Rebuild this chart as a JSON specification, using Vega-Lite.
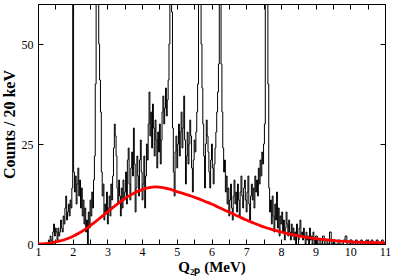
{
  "$schema": "https://vega.github.io/schema/vega-lite/v6.json",
  "width": 347,
  "height": 240,
  "autosize": {"type": "none"},
  "padding": {"left": 38, "top": 4, "right": 10, "bottom": 36},
  "background": "white",
  "config": {
    "view": {"stroke": "black", "strokeWidth": 1},
    "axis": {
      "domain": false,
      "grid": false,
      "tickColor": "black",
      "tickWidth": 1,
      "tickSize": -5,
      "labelFont": "Liberation Serif",
      "labelFontSize": 12,
      "labelColor": "black",
      "titleFont": "Liberation Serif",
      "titleFontWeight": "bold",
      "titleColor": "black"
    }
  },
  "datasets": {
    "hist": [
      {"q":1.0,"c":0},{"q":1.25,"c":0},{"q":1.275,"c":0},{"q":1.3,"c":1},{"q":1.325,"c":0},{"q":1.35,"c":2},{"q":1.375,"c":1},{"q":1.4,"c":0},{"q":1.425,"c":3},{"q":1.45,"c":5},{"q":1.475,"c":2},
      {"q":1.5,"c":4},{"q":1.525,"c":3},{"q":1.55,"c":1},{"q":1.575,"c":4},{"q":1.6,"c":2},{"q":1.625,"c":3},{"q":1.65,"c":6},{"q":1.675,"c":4},{"q":1.7,"c":3},{"q":1.725,"c":7},
      {"q":1.75,"c":5},{"q":1.775,"c":9},{"q":1.8,"c":12},{"q":1.825,"c":6},{"q":1.85,"c":8},{"q":1.875,"c":10},{"q":1.9,"c":7},{"q":1.925,"c":11},{"q":1.95,"c":9},{"q":1.975,"c":14},
      {"q":2.0,"c":100},{"q":2.025,"c":18},{"q":2.05,"c":13},{"q":2.075,"c":17},{"q":2.1,"c":10},{"q":2.125,"c":15},{"q":2.15,"c":19},{"q":2.175,"c":12},{"q":2.2,"c":16},{"q":2.225,"c":9},
      {"q":2.25,"c":14},{"q":2.275,"c":7},{"q":2.3,"c":11},{"q":2.325,"c":5},{"q":2.35,"c":9},{"q":2.375,"c":3},{"q":2.4,"c":6},{"q":2.425,"c":0},{"q":2.45,"c":8},{"q":2.475,"c":4},
      {"q":2.5,"c":11},{"q":2.525,"c":7},{"q":2.55,"c":13},{"q":2.575,"c":9},{"q":2.6,"c":16},{"q":2.625,"c":22},{"q":2.65,"c":40},{"q":2.675,"c":90},{"q":2.7,"c":130},{"q":2.725,"c":80},
      {"q":2.75,"c":50},{"q":2.775,"c":41},{"q":2.8,"c":33},{"q":2.825,"c":18},{"q":2.85,"c":12},{"q":2.875,"c":15},{"q":2.9,"c":6},{"q":2.925,"c":10},{"q":2.95,"c":8},{"q":2.975,"c":13},
      {"q":3.0,"c":5},{"q":3.025,"c":9},{"q":3.05,"c":12},{"q":3.075,"c":7},{"q":3.1,"c":15},{"q":3.125,"c":11},{"q":3.15,"c":17},{"q":3.175,"c":24},{"q":3.2,"c":30},{"q":3.225,"c":27},
      {"q":3.25,"c":22},{"q":3.275,"c":14},{"q":3.3,"c":10},{"q":3.325,"c":16},{"q":3.35,"c":12},{"q":3.375,"c":7},{"q":3.4,"c":14},{"q":3.425,"c":9},{"q":3.45,"c":16},{"q":3.475,"c":11},
      {"q":3.5,"c":13},{"q":3.525,"c":18},{"q":3.55,"c":10},{"q":3.575,"c":21},{"q":3.6,"c":24},{"q":3.625,"c":15},{"q":3.65,"c":11},{"q":3.675,"c":19},{"q":3.7,"c":23},{"q":3.725,"c":17},
      {"q":3.75,"c":29},{"q":3.775,"c":20},{"q":3.8,"c":8},{"q":3.825,"c":14},{"q":3.85,"c":22},{"q":3.875,"c":17},{"q":3.9,"c":12},{"q":3.925,"c":21},{"q":3.95,"c":26},{"q":3.975,"c":18},
      {"q":4.0,"c":11},{"q":4.025,"c":15},{"q":4.05,"c":22},{"q":4.075,"c":9},{"q":4.1,"c":17},{"q":4.125,"c":25},{"q":4.15,"c":21},{"q":4.175,"c":30},{"q":4.2,"c":38},{"q":4.225,"c":27},
      {"q":4.25,"c":33},{"q":4.275,"c":24},{"q":4.3,"c":35},{"q":4.325,"c":29},{"q":4.35,"c":22},{"q":4.375,"c":31},{"q":4.4,"c":26},{"q":4.425,"c":19},{"q":4.45,"c":28},{"q":4.475,"c":23},
      {"q":4.5,"c":30},{"q":4.525,"c":20},{"q":4.55,"c":26},{"q":4.575,"c":33},{"q":4.6,"c":37},{"q":4.625,"c":30},{"q":4.65,"c":34},{"q":4.675,"c":39},{"q":4.7,"c":32},{"q":4.725,"c":36},
      {"q":4.75,"c":41},{"q":4.775,"c":50},{"q":4.8,"c":100},{"q":4.825,"c":70},{"q":4.85,"c":58},{"q":4.875,"c":29},{"q":4.9,"c":18},{"q":4.925,"c":12},{"q":4.95,"c":23},{"q":4.975,"c":27},
      {"q":5.0,"c":19},{"q":5.025,"c":25},{"q":5.05,"c":30},{"q":5.075,"c":22},{"q":5.1,"c":28},{"q":5.125,"c":33},{"q":5.15,"c":24},{"q":5.175,"c":29},{"q":5.2,"c":37},{"q":5.225,"c":26},
      {"q":5.25,"c":15},{"q":5.275,"c":22},{"q":5.3,"c":28},{"q":5.325,"c":20},{"q":5.35,"c":25},{"q":5.375,"c":31},{"q":5.4,"c":27},{"q":5.425,"c":19},{"q":5.45,"c":13},{"q":5.475,"c":21},
      {"q":5.5,"c":26},{"q":5.525,"c":23},{"q":5.55,"c":28},{"q":5.575,"c":33},{"q":5.6,"c":40},{"q":5.625,"c":60},{"q":5.65,"c":100},{"q":5.675,"c":85},{"q":5.7,"c":50},{"q":5.725,"c":39},
      {"q":5.75,"c":30},{"q":5.775,"c":22},{"q":5.8,"c":14},{"q":5.825,"c":25},{"q":5.85,"c":31},{"q":5.875,"c":27},{"q":5.9,"c":23},{"q":5.925,"c":18},{"q":5.95,"c":14},{"q":5.975,"c":21},
      {"q":6.0,"c":25},{"q":6.025,"c":19},{"q":6.05,"c":15},{"q":6.075,"c":20},{"q":6.1,"c":24},{"q":6.125,"c":28},{"q":6.15,"c":33},{"q":6.175,"c":38},{"q":6.2,"c":45},{"q":6.225,"c":90},
      {"q":6.25,"c":110},{"q":6.275,"c":45},{"q":6.3,"c":33},{"q":6.325,"c":24},{"q":6.35,"c":18},{"q":6.375,"c":21},{"q":6.4,"c":13},{"q":6.425,"c":17},{"q":6.45,"c":10},{"q":6.475,"c":14},
      {"q":6.5,"c":7},{"q":6.525,"c":11},{"q":6.55,"c":15},{"q":6.575,"c":9},{"q":6.6,"c":6},{"q":6.625,"c":12},{"q":6.65,"c":16},{"q":6.675,"c":10},{"q":6.7,"c":13},{"q":6.725,"c":8},
      {"q":6.75,"c":15},{"q":6.775,"c":11},{"q":6.8,"c":7},{"q":6.825,"c":13},{"q":6.85,"c":17},{"q":6.875,"c":12},{"q":6.9,"c":9},{"q":6.925,"c":14},{"q":6.95,"c":16},{"q":6.975,"c":11},
      {"q":7.0,"c":8},{"q":7.025,"c":13},{"q":7.05,"c":17},{"q":7.075,"c":10},{"q":7.1,"c":6},{"q":7.125,"c":12},{"q":7.15,"c":15},{"q":7.175,"c":11},{"q":7.2,"c":14},{"q":7.225,"c":9},
      {"q":7.25,"c":17},{"q":7.275,"c":13},{"q":7.3,"c":16},{"q":7.325,"c":12},{"q":7.35,"c":19},{"q":7.375,"c":15},{"q":7.4,"c":21},{"q":7.425,"c":17},{"q":7.45,"c":23},{"q":7.475,"c":20},
      {"q":7.5,"c":25},{"q":7.525,"c":30},{"q":7.55,"c":80},{"q":7.575,"c":110},{"q":7.6,"c":90},{"q":7.625,"c":40},{"q":7.65,"c":14},{"q":7.675,"c":8},{"q":7.7,"c":11},{"q":7.725,"c":5},
      {"q":7.75,"c":12},{"q":7.775,"c":7},{"q":7.8,"c":3},{"q":7.825,"c":10},{"q":7.85,"c":6},{"q":7.875,"c":13},{"q":7.9,"c":4},{"q":7.925,"c":9},{"q":7.95,"c":2},{"q":7.975,"c":7},
      {"q":8.0,"c":5},{"q":8.025,"c":8},{"q":8.05,"c":3},{"q":8.075,"c":6},{"q":8.1,"c":1},{"q":8.125,"c":4},{"q":8.15,"c":8},{"q":8.175,"c":5},{"q":8.2,"c":2},{"q":8.225,"c":6},
      {"q":8.25,"c":3},{"q":8.275,"c":1},{"q":8.3,"c":5},{"q":8.325,"c":2},{"q":8.35,"c":4},{"q":8.375,"c":1},{"q":8.4,"c":3},{"q":8.425,"c":0},{"q":8.45,"c":5},{"q":8.475,"c":2},
      {"q":8.5,"c":1},{"q":8.525,"c":4},{"q":8.55,"c":6},{"q":8.575,"c":2},{"q":8.6,"c":3},{"q":8.625,"c":1},{"q":8.65,"c":4},{"q":8.675,"c":2},{"q":8.7,"c":0},{"q":8.725,"c":3},
      {"q":8.75,"c":1},{"q":8.775,"c":2},{"q":8.8,"c":0},{"q":8.825,"c":4},{"q":8.85,"c":1},{"q":8.875,"c":2},{"q":8.9,"c":0},{"q":8.925,"c":3},{"q":8.95,"c":1},{"q":8.975,"c":0},
      {"q":9.0,"c":2},{"q":9.05,"c":0},{"q":9.1,"c":1},{"q":9.15,"c":0},{"q":9.2,"c":2},{"q":9.25,"c":0},{"q":9.3,"c":1},{"q":9.35,"c":0},{"q":9.4,"c":3},{"q":9.45,"c":0},
      {"q":9.5,"c":1},{"q":9.55,"c":0},{"q":9.6,"c":0},{"q":9.65,"c":1},{"q":9.7,"c":0},{"q":9.75,"c":0},{"q":9.8,"c":1},{"q":9.85,"c":2},{"q":9.9,"c":0},{"q":9.95,"c":0},
      {"q":10.0,"c":1},{"q":10.05,"c":0},{"q":10.1,"c":0},{"q":10.15,"c":1},{"q":10.2,"c":0},{"q":10.25,"c":0},{"q":10.3,"c":1},{"q":10.35,"c":0},{"q":10.4,"c":0},{"q":10.45,"c":1},
      {"q":10.5,"c":0},{"q":10.55,"c":0},{"q":10.6,"c":1},{"q":10.65,"c":0},{"q":10.7,"c":0},{"q":10.75,"c":1},{"q":10.8,"c":0},{"q":10.85,"c":0},{"q":10.9,"c":1},{"q":10.95,"c":0},
      {"q":11.0,"c":0}
    ],
    "fit": [
      {"q": 1.0, "c": 0}, {"q": 1.2, "c": 0.1}, {"q": 1.4, "c": 0.3}, {"q": 1.6, "c": 0.7}, {"q": 1.8, "c": 1.2},
      {"q": 2.0, "c": 1.9}, {"q": 2.2, "c": 2.8}, {"q": 2.4, "c": 3.9}, {"q": 2.6, "c": 5.2}, {"q": 2.8, "c": 6.6},
      {"q": 3.0, "c": 8.0}, {"q": 3.2, "c": 9.4}, {"q": 3.4, "c": 10.7}, {"q": 3.6, "c": 11.9}, {"q": 3.8, "c": 12.9},
      {"q": 4.0, "c": 13.6}, {"q": 4.2, "c": 14.1}, {"q": 4.4, "c": 14.3}, {"q": 4.6, "c": 14.1}, {"q": 4.8, "c": 13.7},
      {"q": 5.0, "c": 13.1}, {"q": 5.2, "c": 12.6}, {"q": 5.4, "c": 12.0}, {"q": 5.6, "c": 11.4}, {"q": 5.8, "c": 10.7},
      {"q": 6.0, "c": 10.0}, {"q": 6.2, "c": 9.2}, {"q": 6.4, "c": 8.4}, {"q": 6.6, "c": 7.6}, {"q": 6.8, "c": 6.8},
      {"q": 7.0, "c": 6.0}, {"q": 7.2, "c": 5.3}, {"q": 7.4, "c": 4.6}, {"q": 7.6, "c": 4.0}, {"q": 7.8, "c": 3.5},
      {"q": 8.0, "c": 3.0}, {"q": 8.2, "c": 2.6}, {"q": 8.4, "c": 2.2}, {"q": 8.6, "c": 1.9}, {"q": 8.8, "c": 1.6},
      {"q": 9.0, "c": 1.35}, {"q": 9.2, "c": 1.15}, {"q": 9.4, "c": 0.95}, {"q": 9.6, "c": 0.8}, {"q": 9.8, "c": 0.68},
      {"q": 10.0, "c": 0.57}, {"q": 10.2, "c": 0.48}, {"q": 10.4, "c": 0.42}, {"q": 10.6, "c": 0.37}, {"q": 10.8, "c": 0.33},
      {"q": 11.0, "c": 0.3}
    ]
  },
  "layer": [
    {
      "data": {"name": "hist"},
      "mark": {"type": "line", "interpolate": "step-after", "color": "black", "strokeWidth": 1, "clip": true},
      "encoding": {
        "x": {
          "field": "q", "type": "quantitative",
          "scale": {"domain": [1, 11], "nice": false, "zero": false},
          "axis": {
            "orient": "bottom",
            "values": [1, 1.5, 2, 2.5, 3, 3.5, 4, 4.5, 5, 5.5, 6, 6.5, 7, 7.5, 8, 8.5, 9, 9.5, 10, 10.5, 11],
            "labelExpr": "datum.value % 1 === 0 ? format(datum.value, 'd') : ''",
            "labelOverlap": false,
            "labelPadding": 7,
            "labelFlush": false,
            "title": "Q₂ₚ (MeV)",
            "titleFontSize": 15,
            "titlePadding": 2
          }
        },
        "y": {
          "field": "c", "type": "quantitative",
          "scale": {"domain": [0, 60], "nice": false},
          "axis": {
            "orient": "left",
            "values": [0, 25, 50],
            "labelPadding": 10,
            "labelFlush": false,
            "title": "Counts / 20 keV",
            "titleFontSize": 16,
            "titlePadding": 4
          }
        }
      }
    },
    {
      "data": {"name": "fit"},
      "mark": {"type": "line", "interpolate": "monotone", "color": "#ff0000", "strokeWidth": 2.8, "clip": true},
      "encoding": {
        "x": {
          "field": "q", "type": "quantitative",
          "axis": {
            "orient": "top",
            "values": [1, 1.5, 2, 2.5, 3, 3.5, 4, 4.5, 5, 5.5, 6, 6.5, 7, 7.5, 8, 8.5, 9, 9.5, 10, 10.5, 11],
            "labels": false,
            "title": null
          }
        },
        "y": {
          "field": "c", "type": "quantitative",
          "axis": {"orient": "right", "values": [0, 25, 50], "labels": false, "title": null}
        }
      }
    }
  ],
  "resolve": {"axis": {"x": "independent", "y": "independent"}}
}
